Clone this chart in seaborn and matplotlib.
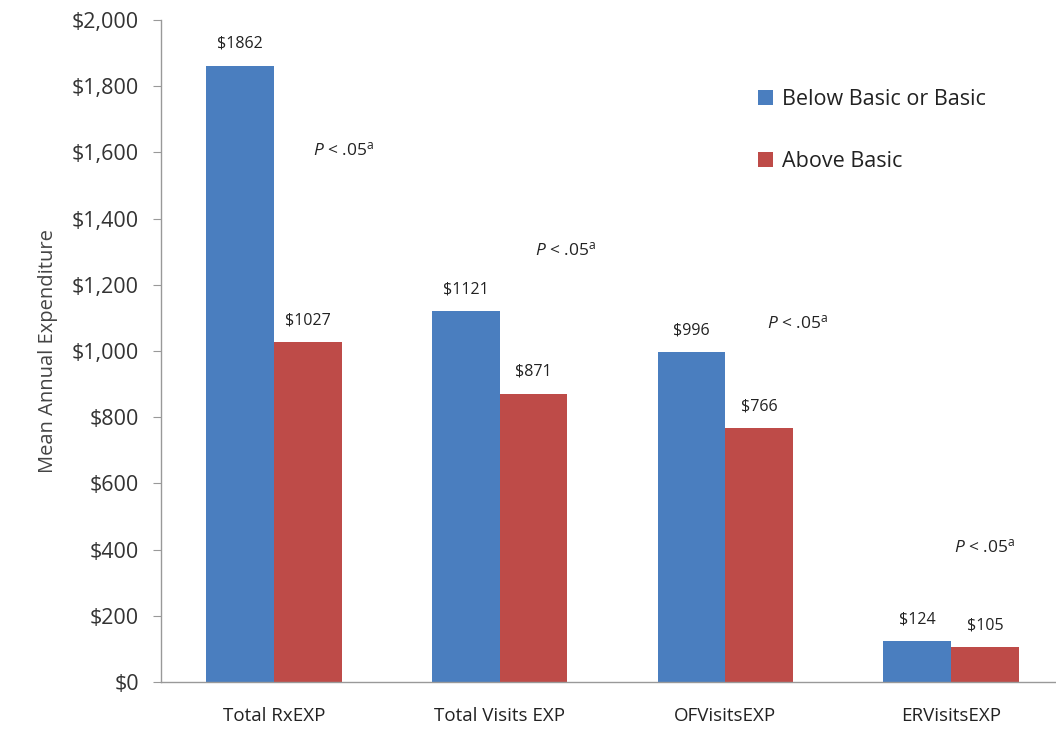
import pandas as pd
import matplotlib
matplotlib.use('Agg')
import matplotlib.pyplot as plt
import seaborn as sns

categories = ['Total RxEXP', 'Total Visits EXP', 'OFVisitsEXP', 'ERVisitsEXP']
below_basic = [1862, 1121, 996, 124]
above_basic = [1027, 871, 766, 105]
groups = ['Below Basic or Basic', 'Above Basic']
colors = ['#4A7EBF', '#BE4B48']

# p-value notes (category position, y position)
p_x = [0.31, 1.29, 2.32, 3.15]
p_y = [1607, 1305, 1085, 408]

df = pd.DataFrame({
    'category': categories * 2,
    'group': [groups[0]] * 4 + [groups[1]] * 4,
    'value': below_basic + above_basic,
})

sns.set_style('white')
plt.rcParams['font.family'] = ['Open Sans', 'DejaVu Sans']
plt.rcParams['mathtext.fontset'] = 'custom'
plt.rcParams['mathtext.rm'] = 'Open Sans'
plt.rcParams['mathtext.it'] = 'Open Sans:italic'

fig = plt.figure(figsize=(10.56, 7.34), dpi=100)
ax = fig.add_axes([0.1525, 0.0708, 0.855, 0.902])

sns.barplot(data=df, x='category', y='value', hue='group', palette=colors,
            width=0.6, saturation=1, linewidth=0, ax=ax, legend=True)

for cont in ax.containers:
    ax.bar_label(cont, labels=['$' + str(int(v)) for v in cont.datavalues],
                 padding=10, fontsize=11.5, color='#222222')

for x, y in zip(p_x, p_y):
    ax.text(x, y, r'$\it{P}$ < .05$^{\rm a}$', fontsize=12.5, ha='center', va='center', color='#222222')

ax.set_ylim(0, 2000)
ax.set_xlim(-0.5, 3.5)
ax.set_yticks(range(0, 2001, 200))
ax.set_yticklabels(['${:,}'.format(v) for v in range(0, 2001, 200)], fontsize=15.5, color='#333333')
ax.set_xticks(range(4))
ax.set_xticklabels(categories, fontsize=13.5, color='#222222')
ax.tick_params(axis='x', which='major', length=0, pad=18)
ax.set_xticks([0.5, 1.5, 2.5, 3.5], minor=True)
ax.tick_params(axis='x', which='minor', length=6, color='#999999', direction='out')
ax.tick_params(axis='y', length=6, color='#999999', direction='out', left=True, pad=10)
ax.set_xlabel('')
ax.set_ylabel('Mean Annual Expenditure', fontsize=14.5, color='#444444', labelpad=10)

sns.despine(ax=ax, top=True, right=True)
for s in ['left', 'bottom']:
    ax.spines[s].set_color('#999999')
    ax.spines[s].set_linewidth(1)

leg = ax.legend(loc='upper left', bbox_to_anchor=(0.64, 0.925), frameon=False,
                fontsize=15.5, handlelength=0.7, handleheight=0.7, handletextpad=0.4,
                labelspacing=1.9)
for t in leg.get_texts():
    t.set_color('#222222')

fig.savefig('out.png', dpi=100)
